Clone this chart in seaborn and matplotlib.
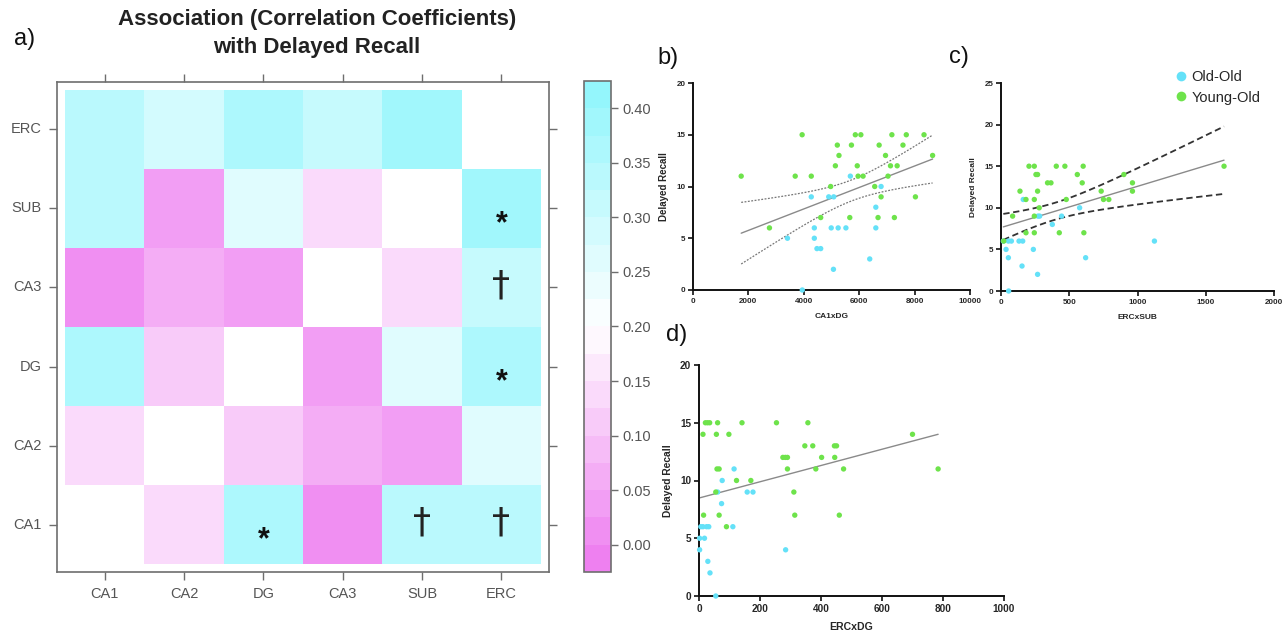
import numpy as np
import pandas as pd
import matplotlib
matplotlib.use("Agg")
import matplotlib.pyplot as plt
import seaborn as sns
from matplotlib.colors import ListedColormap, LinearSegmentedColormap
from matplotlib.lines import Line2D

sns.set_style("white")
plt.rcParams["font.family"] = ["Liberation Sans", "DejaVu Sans"]

# ---------------- heatmap data ----------------
regions = ["CA1", "CA2", "DG", "CA3", "SUB", "ERC"]
row_order = ["ERC", "SUB", "CA3", "DG", "CA2", "CA1"]
corr_ERC = [0.33, 0.285, 0.357, 0.32, 0.39, np.nan]
corr_SUB = [0.33, 0.03, 0.26, 0.137, np.nan, 0.39]
corr_CA3 = [0.0, 0.06, 0.04, np.nan, 0.14, 0.31]
corr_DG = [0.36, 0.106, np.nan, 0.04, 0.26, 0.36]
corr_CA2 = [0.14, np.nan, 0.105, 0.06, 0.04, 0.265]
corr_CA1 = [np.nan, 0.14, 0.36, 0.0, 0.33, 0.33]
sig_cols = ["DG", "SUB", "ERC", "ERC", "ERC", "ERC"]
sig_rows = ["CA1", "CA1", "CA1", "DG", "CA3", "SUB"]
sig_marks = ["*", "\u2020", "\u2020", "*", "\u2020", "*"]

# ---------------- scatter data ----------------
b_young_x = [1740, 2760, 3940, 3690, 4270, 4610, 4970, 5140, 5210, 5270, 5660, 5720, 5860, 6060, 5930, 5960,
             6140, 6560, 6720, 6790, 6680, 6950, 7040, 7130, 7180, 7270, 7370, 7580, 7700, 8030, 8340, 8650]
b_young_y = [11, 6, 15, 11, 11, 7, 10, 12, 14, 13, 7, 14, 15, 15, 12, 11,
             11, 10, 14, 9, 7, 13, 11, 12, 15, 7, 12, 14, 15, 9, 15, 13]
b_old_x = [3410, 3945, 4270, 4380, 4380, 4475, 4610, 4900, 4990, 5070, 5080, 5240, 5520, 5680, 6380, 6600, 6600, 6790]
b_old_y = [5, 0, 9, 6, 5, 4, 4, 9, 6, 2, 9, 6, 6, 11, 3, 8, 6, 10]

c_young_x = [20, 85, 139, 183, 183, 205, 244, 256, 268, 244, 268, 280, 244, 244, 341, 366, 405, 468, 478, 427,
             559, 595, 602, 607, 734, 751, 790, 900, 963, 963, 1634]
c_young_y = [6, 9, 12, 7, 11, 15, 15, 14, 14, 11, 12, 10, 9, 7, 13, 13, 15, 15, 11, 7,
             14, 13, 15, 7, 12, 11, 11, 14, 13, 12, 15]
c_old_x = [17, 37, 54, 54, 56, 76, 132, 159, 154, 163, 237, 268, 271, 283, 376, 444, 576, 620, 1124]
c_old_y = [6, 5, 6, 4, 0, 6, 6, 6, 3, 11, 5, 2, 9, 9, 8, 9, 10, 4, 6]

d_young_x = [13, 21, 28, 35, 55, 57, 61, 59, 66, 15, 66, 90, 98, 123, 141, 170, 254, 275, 283, 290, 290, 311,
             314, 347, 357, 373, 383, 402, 445, 444, 451, 460, 474, 700, 784]
d_young_y = [14, 15, 15, 15, 9, 14, 15, 11, 11, 7, 7, 6, 14, 10, 15, 10, 15, 12, 12, 12, 11, 9,
             7, 13, 15, 13, 11, 12, 12, 13, 13, 7, 11, 14, 11]
d_old_x = [2, 2, 6, 13, 18, 25, 32, 29, 36, 55, 61, 76, 74, 115, 111, 158, 177, 284]
d_old_y = [5, 4, 6, 6, 5, 6, 6, 3, 2, 0, 9, 10, 8, 11, 6, 9, 9, 4]

groups = ["Old-Old", "Young-Old"]
group_colors = {"Old-Old": "#64E1F8", "Young-Old": "#6EE34B"}

# ---------------- figure ----------------
W, H = 1286, 637
fig = plt.figure(figsize=(W / 100, H / 100), dpi=100)


def px_axes(x0, y0, x1, y1):
    return fig.add_axes([x0 / W, 1 - y1 / H, (x1 - x0) / W, (y1 - y0) / H])


# heatmap
ax_h = px_axes(57, 82, 549, 572)
cax = px_axes(584, 81, 611, 572)

corr = pd.DataFrame([corr_ERC, corr_SUB, corr_CA3, corr_DG, corr_CA2, corr_CA1],
                    index=row_order, columns=regions)

base = LinearSegmentedColormap.from_list(
    "pw", [(0.0, "#EE80F0"), (0.5, "#FFFFFF"), (1.0, "#94F6FC")])
n_bands = 18
band_colors = [base(i / (n_bands - 1)) for i in range(n_bands)]
cmap = ListedColormap(band_colors)

sns.heatmap(corr, ax=ax_h, cmap=cmap, vmin=-0.025, vmax=0.425, cbar_ax=cax,
            linewidths=0, xticklabels=regions, yticklabels=row_order)
ax_h.set_xlim(-0.1, 6.1)
ax_h.set_ylim(6.1, -0.1)
for s in ax_h.spines.values():
    s.set_visible(True)
    s.set_color("#6E6E6E")
    s.set_linewidth(1.2)
ax_h.tick_params(axis="both", which="both", direction="out", length=6, width=1, color="#6E6E6E",
                 labelcolor="#555555", labelsize=10.5, top=True, right=True,
                 labeltop=False, labelright=False, bottom=True, left=True, pad=5)
ax_h.set_xlabel("")
ax_h.set_ylabel("")
plt.setp(ax_h.get_yticklabels(), rotation=0)
plt.setp(ax_h.get_xticklabels(), rotation=0)

for c, r, m in zip(sig_cols, sig_rows, sig_marks):
    xi = regions.index(c) + 0.5
    yi = row_order.index(r) + 0.5
    if m == "*":
        ax_h.text(xi, yi + 0.2, m, ha="center", va="center", fontsize=22, fontweight="bold", color="#111111")
    else:
        ax_h.text(xi, yi - 0.02, m, ha="center", va="center", fontsize=26, color="#222222",
                  family=["DejaVu Sans"])

cbar = ax_h.collections[0].colorbar
cbar.set_ticks(np.arange(0, 0.401, 0.05))
cbar.set_ticklabels([f"{t:.2f}" for t in np.arange(0, 0.401, 0.05)])
cbar.outline.set_edgecolor("#6E6E6E")
cbar.outline.set_linewidth(1.2)
cax.tick_params(direction="out", length=5, width=1, color="#6E6E6E", labelcolor="#555555",
                labelsize=10.5, pad=3)

fig.text(317 / W, 1 - 20 / H, "Association (Correlation Coefficients)", ha="center", va="center",
         fontsize=16, fontweight="bold", color="#222222")
fig.text(317 / W, 1 - 47 / H, "with Delayed Recall", ha="center", va="center",
         fontsize=16, fontweight="bold", color="#222222")
fig.text(25 / W, 1 - 39 / H, "a)", ha="center", va="center", fontsize=17, color="#111111")


def fit_lines(ax, x, y, ci_style=None):
    x = np.asarray(x, float)
    y = np.asarray(y, float)
    df = pd.DataFrame({"x": x, "y": y})
    sns.regplot(data=df, x="x", y="y", scatter=False, ci=None, ax=ax,
                line_kws=dict(color="#8A8A8A", lw=1.0))
    if ci_style is not None:
        n = len(x)
        slope, icpt = np.polyfit(x, y, 1)
        resid = y - (slope * x + icpt)
        s = np.sqrt(np.sum(resid ** 2) / (n - 2))
        xg = np.linspace(x.min(), x.max(), 100)
        se = s * np.sqrt(1 / n + (xg - x.mean()) ** 2 / np.sum((x - x.mean()) ** 2))
        yh = slope * xg + icpt
        t = 2.0
        ax.plot(xg, yh + t * se, **ci_style)
        ax.plot(xg, yh - t * se, **ci_style)


def scatter_panel(ax, yx, yy, ox, oy, xlim, xticks, ylim, yticks, xlabel,
                  tick_fs, xl_fs, yl_fs, ci_style):
    df = pd.DataFrame({
        "x": list(ox) + list(yx),
        "y": list(oy) + list(yy),
        "Group": ["Old-Old"] * len(ox) + ["Young-Old"] * len(yx),
    })
    sns.scatterplot(data=df, x="x", y="y", hue="Group", hue_order=groups, palette=group_colors,
                    s=15, linewidth=0, ax=ax, legend=False, clip_on=False, zorder=3)
    fit_lines(ax, df["x"], df["y"], ci_style)
    ax.set_xlim(*xlim)
    ax.set_ylim(*ylim)
    ax.set_xticks(xticks)
    ax.set_yticks(yticks)
    sns.despine(ax=ax)
    for s in ["left", "bottom"]:
        ax.spines[s].set_linewidth(1.4)
        ax.spines[s].set_color("#111111")
    ax.tick_params(direction="out", length=3.5, width=1.2, color="#111111", labelsize=tick_fs,
                   pad=2, bottom=True, left=True)
    for lab in ax.get_xticklabels() + ax.get_yticklabels():
        lab.set_fontweight("bold")
    ax.set_xlabel(xlabel, fontsize=xl_fs, fontweight="bold", labelpad=6)
    ax.set_ylabel("Delayed Recall", fontsize=yl_fs, fontweight="bold", labelpad=5)
    ax.patch.set_alpha(0)


ax_b = px_axes(693, 83, 970, 290)
scatter_panel(ax_b, b_young_x, b_young_y, b_old_x, b_old_y, (0, 10000), np.arange(0, 10001, 2000),
              (0, 20), np.arange(0, 21, 5), "CA1xDG", 5.8, 6.0, 7.0,
              dict(color="#777777", lw=0.9, ls=(0, (1.5, 1.2))))

ax_c = px_axes(1001, 83, 1274, 291)
scatter_panel(ax_c, c_young_x, c_young_y, c_old_x, c_old_y, (0, 2000), np.arange(0, 2001, 500),
              (0, 25), np.arange(0, 26, 5), "ERCxSUB", 5.8, 6.0, 6.0,
              dict(color="#333333", lw=1.3, ls=(0, (3.5, 2))))

ax_d = px_axes(699, 365, 1004, 596)
scatter_panel(ax_d, d_young_x, d_young_y, d_old_x, d_old_y, (0, 1000), np.arange(0, 1001, 200),
              (0, 20), np.arange(0, 21, 5), "ERCxDG", 7.2, 7.6, 7.4, None)

handles = [Line2D([], [], marker="o", ls="none", markersize=7, markeredgewidth=0,
                  markerfacecolor=group_colors[g]) for g in groups]
fig.legend(handles, groups, loc="upper left", bbox_to_anchor=(1174 / W, 1 - 70 / H),
           frameon=False, fontsize=10.5, handletextpad=0.2, labelspacing=0.45,
           borderaxespad=0, borderpad=0, handlelength=1.0)

fig.text(668 / W, 1 - 58 / H, "b)", ha="center", va="center", fontsize=17, color="#111111")
fig.text(959 / W, 1 - 57 / H, "c)", ha="center", va="center", fontsize=17, color="#111111")
fig.text(677 / W, 1 - 335 / H, "d)", ha="center", va="center", fontsize=17, color="#111111")

fig.savefig("out.png", dpi=100)
